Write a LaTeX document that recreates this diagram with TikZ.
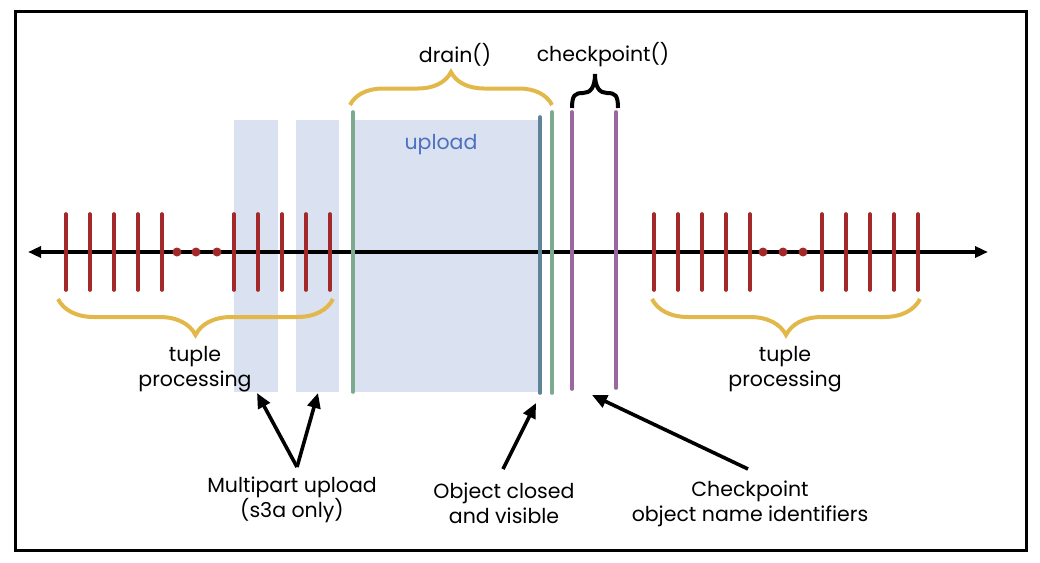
\documentclass[tikz,border=0pt]{standalone}
\usepackage{fontspec}
\setmainfont{Poppins}
\usetikzlibrary{arrows.meta,decorations.pathreplacing,positioning}
\definecolor{tickred}{HTML}{A3282A}
\definecolor{drainyellow}{HTML}{E2B84A}
\definecolor{uploadblue}{HTML}{DAE1F0}
\definecolor{closegreen}{HTML}{7DAA8E}
\definecolor{closeblue}{HTML}{5F8399}
\definecolor{markpurple}{HTML}{9A689F}
\definecolor{labelblue}{HTML}{4C70C0}

\begin{document}
\begin{tikzpicture}[x=1pt,y=-1pt,
    every node/.style={font=\fontsize{20.5}{25}\selectfont, align=center, inner sep=0pt},
    tuplemark/.style={tickred, line width=3.6pt, line cap=round},
    marker/.style={line width=3.6pt, line cap=round},
    braceline/.style={drainyellow, line width=4pt, decorate, decoration={brace, amplitude=#1}},
    pointer/.style={-{Triangle[length=15pt,width=13pt]}, line width=3.6pt}]
    \useasboundingbox (0,0) rectangle (1040,562);
    \draw[line width=3pt] (15.5,11.5) rectangle (1026.5,550.5);

    % upload parts
    \fill[uploadblue] (234,120) rectangle (278,392);
    \fill[uploadblue] (296,120) rectangle (339,392);
    \fill[uploadblue] (355,120) rectangle (540,392);

    % time line
    \coordinate (past) at (28,252);
    \coordinate (future) at (988,252);
    \draw[{Triangle[length=13pt,width=11pt]}-{Triangle[length=13pt,width=11pt]}, line width=3.6pt] (past) -- (future);
    \foreach \x in {66,90,...,162,234,258,...,330,654,678,...,750,822,846,...,918}
        \draw[tuplemark] (\x,214) -- (\x,290);
    \foreach \x in {177,196,217,763,783,803}
        \fill[tickred] (\x,252) circle (4.5pt);

    \draw[marker, closegreen] (353,112) -- (353,392);
    \draw[marker, closeblue] (540,117) -- (540,393);
    \draw[marker, closegreen] (552,112) -- (552,393);
    \draw[marker, markpurple] (572,112) -- (572,389);
    \draw[marker, markpurple] (616,112) -- (616,388);

    % braces
    \draw[braceline=33] (350,105) -- (552,105);
    \draw[line width=4pt] (572,108) .. controls (572,95) and (575,93) .. (583,93)
        .. controls (590,93) and (595,88) .. (595,74)
        .. controls (595,88) and (600,93) .. (607,93)
        .. controls (615,93) and (618,95) .. (618,108);
    \draw[braceline=36] (333,299) -- (58,299);
    \draw[braceline=36] (920,299) -- (652,299);

    \node (drain) at (455,55) {drain()};
    \node (checkpoint) at (603,55) {checkpoint()};
    \node[text=labelblue] (upload) at (441,145) {upload};
    \node (tupleleft) at (195,369) {tuple\\processing};
    \node (tupleright) at (785,369) {tuple\\processing};
    \node (multipart) at (292,500) {Multipart upload\\(s3a only)};
    \node (closed) at (504,503) {Object closed\\and visible};
    \node (ckptids) at (750,504) {Checkpoint\\object name identifiers};

    \coordinate (apex) at (297,467);
    \coordinate (partone) at (257,393);
    \coordinate (parttwo) at (318,393);
    \coordinate (closedtail) at (503,469);
    \coordinate (closedtip) at (536,403);
    \coordinate (ckpttail) at (748,469);
    \coordinate (ckpttip) at (592,395);
    \draw[pointer] (apex) -- (partone);
    \draw[pointer] (apex) -- (parttwo);
    \draw[pointer] (closedtail) -- (closedtip);
    \draw[pointer] (ckpttail) -- (ckpttip);
\end{tikzpicture}
\end{document}
